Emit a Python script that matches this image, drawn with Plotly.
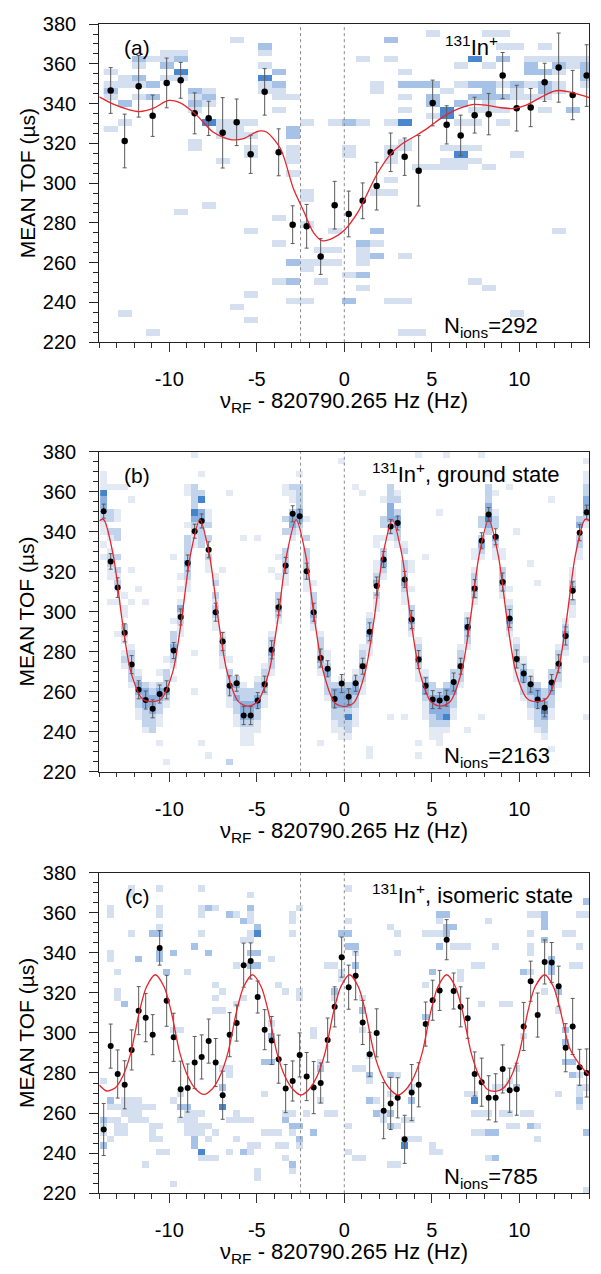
import plotly.graph_objects as go

# ---------------- data ----------------
freq_a = [-13.35, -12.55, -11.75, -10.95, -10.15, -9.35, -8.55, -7.75, -6.95, -6.15,
          -5.35, -4.55, -3.75, -2.95, -2.15, -1.35, -0.55, 0.25, 1.05, 1.85,
          2.65, 3.45, 4.25, 5.05, 5.85, 6.65, 7.45, 8.25, 9.05, 9.85,
          10.65, 11.45, 12.25, 13.05, 13.85]
tof_a = [346.6, 321.2, 348.7, 333.9, 350.4, 351.7, 335.1, 332.6, 325.3, 330.6,
         314.5, 345.9, 315.5, 279.1, 278.3, 263.1, 288.9, 284.5, 291.1, 298.5,
         315.5, 313.3, 306.2, 340.3, 329.3, 324.0, 334.2, 334.7, 354.1, 337.7,
         338.0, 350.7, 358.1, 344.3, 354.1]
err_a = [11.5, 13.5, 15.5, 10.4, 12.5, 9.0, 10.3, 8.6, 17.7, 11.7,
         9.6, 11.7, 11.8, 9.5, 11.0, 9.0, 12.0, 11.5, 9.0, 12.0,
         9.7, 9.4, 17.7, 11.5, 9.6, 10.2, 9.0, 10.4, 11.6, 11.5,
         9.6, 9.6, 17.4, 12.4, 15.5]

freq_bc = [-13.75, -13.35, -12.95, -12.55, -12.15, -11.75, -11.35, -10.95, -10.55, -10.15,
           -9.75, -9.35, -8.95, -8.55, -8.15, -7.75, -7.35, -6.95, -6.55, -6.15,
           -5.75, -5.35, -4.95, -4.55, -4.15, -3.75, -3.35, -2.95, -2.55, -2.15,
           -1.75, -1.35, -0.95, -0.55, -0.15, 0.25, 0.65, 1.05, 1.45, 1.85,
           2.25, 2.65, 3.05, 3.45, 3.85, 4.25, 4.65, 5.05, 5.45, 5.85,
           6.25, 6.65, 7.05, 7.45, 7.85, 8.25, 8.65, 9.05, 9.45, 9.85,
           10.25, 10.65, 11.05, 11.45, 11.85, 12.25, 12.65, 13.05, 13.45, 13.85]
tof_b = [350.2, 325.1, 312.0, 289.4, 273.5, 260.9, 255.8, 251.4, 258.8, 260.9,
         280.5, 297.3, 324.3, 340.2, 345.3, 330.9, 299.7, 285.0, 262.9, 264.2,
         248.0, 248.0, 255.5, 263.7, 280.9, 302.2, 323.1, 348.9, 347.7, 320.2,
         299.7, 276.8, 271.4, 256.3, 264.0, 257.4, 264.2, 272.7, 289.9, 312.8,
         326.0, 342.6, 344.3, 316.1, 296.0, 276.0, 262.9, 256.0, 255.5, 256.7,
         264.8, 272.7, 292.3, 311.5, 335.4, 348.5, 337.4, 314.8, 296.5, 276.3,
         269.0, 263.7, 256.0, 251.9, 264.5, 273.9, 287.8, 310.4, 339.4, 349.7]
err_b = [3.5, 3.9, 4.9, 4.5, 4.5, 4.5, 4.5, 4.5, 4.5, 4.5,
         4.0, 4.0, 4.0, 3.5, 3.5, 4.0, 4.5, 4.5, 5.0, 4.0,
         4.5, 4.5, 4.0, 4.0, 4.5, 4.0, 4.0, 4.0, 3.5, 4.0,
         4.5, 4.5, 4.0, 4.5, 4.5, 4.0, 4.0, 4.0, 4.5, 4.5,
         4.0, 3.5, 3.5, 4.0, 4.5, 4.5, 4.0, 4.5, 4.0, 4.0,
         4.5, 4.0, 4.5, 4.5, 4.0, 3.5, 4.0, 4.5, 4.5, 4.5,
         4.5, 4.0, 4.5, 4.5, 4.0, 4.5, 4.5, 4.5, 4.0, 3.5]

tof_c = [251.8, 293.4, 279.5, 274.1, 291.5, 311.1, 307.6, 299.1, 342.4, 316.0,
         297.8, 271.9, 272.5, 285.2, 288.0, 295.9, 285.2, 268.9, 299.1, 304.9,
         333.8, 335.9, 317.9, 301.6, 296.2, 286.9, 272.2, 276.0, 289.0, 278.2,
         272.7, 275.0, 296.4, 313.0, 337.8, 322.8, 328.5, 305.2, 289.3, 300.0,
         261.2, 264.8, 267.6, 246.9, 270.2, 274.1, 304.4, 316.3, 321.2, 346.5,
         320.9, 313.0, 307.3, 279.5, 275.4, 267.6, 267.6, 282.0, 271.4, 271.9,
         303.2, 325.8, 308.9, 335.4, 335.1, 323.3, 292.6, 303.2, 282.8, 280.0]
err_c = [13, 11, 12, 12, 10, 12, 12, 10, 8.6, 12.7,
         12, 14, 12, 13, 11, 11, 12, 12, 11, 9,
         11, 9, 8, 10, 12, 12, 12, 10, 11, 12,
         13, 10, 11, 10, 10, 11, 12, 11, 11, 12,
         14, 13, 10, 12, 14, 11, 11, 10, 10, 10,
         9, 10, 10, 11, 12, 11, 12, 12, 11, 13,
         12, 10, 11, 11, 10, 10, 12, 14, 9, 12]

# fitted curves
fit_a_x = [-14.0, -13.2, -12.4, -11.7, -10.9, -10.05, -9.4, -8.5, -7.5, -6.5,
           -5.75, -4.9, -4.45, -3.65, -2.9, -2.35, -1.75, -1.25, -0.65, 0.0,
           0.75, 1.85, 2.6, 3.2, 3.95, 4.7, 5.45, 6.25, 7.0, 7.4,
           8.1, 8.9, 9.65, 10.4, 11.2, 11.95, 12.3, 13.1, 14.0]
fit_a_y = [343.4, 339.7, 337.2, 336.0, 337.7, 341.6, 340.5, 334.7, 325.7, 321.9,
           322.4, 326.2, 325.7, 317.4, 297.0, 286.5, 275.0, 271.0, 272.3, 276.3,
           285.0, 304.2, 314.1, 319.1, 323.2, 327.3, 332.2, 336.3, 338.8, 339.6,
           339.2, 338.0, 337.5, 339.2, 343.0, 346.2, 346.6, 345.4, 343.0]

fit_b_x = [-14.0, -13.75, -13.2, -12.7, -12.2, -11.55, -11.0, -10.45, -9.8, -9.3,
           -8.8, -8.25, -7.7, -7.2, -6.7, -6.05, -5.5, -4.95, -4.3, -3.8,
           -3.3, -2.75, -2.2, -1.7, -1.2, -0.55, 0.0, 0.55, 1.2, 1.7,
           2.2, 2.75, 3.3, 3.8, 4.3, 4.95, 5.5, 6.05, 6.7, 7.2,
           7.7, 8.25, 8.8, 9.3, 9.8, 10.45, 11.0, 11.55, 12.2, 12.7,
           13.2, 13.75, 14.0]
fit_b_y = [345.5, 346.0, 328.0, 296.0, 270.0, 256.5, 255.0, 256.5, 270.0, 296.0,
           328.0, 346.0, 328.0, 296.0, 270.0, 255.0, 252.7, 255.0, 270.0, 296.0,
           328.0, 346.0, 328.0, 296.0, 270.0, 254.5, 252.5, 254.5, 270.0, 296.0,
           328.0, 346.0, 328.0, 296.0, 270.0, 255.0, 252.7, 255.0, 270.0, 296.0,
           328.0, 346.0, 328.0, 296.0, 270.0, 256.5, 255.0, 256.5, 270.0, 296.0,
           328.0, 346.0, 345.5]

fit_c_x = [-14.0, -13.575, -13.1, -12.65, -12.2, -11.7, -11.3, -10.8, -10.3, -9.9,
           -9.4, -8.95, -8.5, -8.025, -7.55, -7.1, -6.65, -6.15, -5.75, -5.25,
           -4.75, -4.35, -3.85, -3.4, -2.95, -2.475, -2.0, -1.55, -1.1, -0.6,
           -0.2, 0.3, 0.8, 1.2, 1.7, 2.15, 2.6, 3.075, 3.55, 4.0,
           4.45, 4.95, 5.35, 5.85, 6.35, 6.75, 7.25, 7.7, 8.15, 8.625,
           9.1, 9.55, 10.0, 10.5, 10.9, 11.45, 11.95, 12.35, 12.85, 13.3,
           13.7, 14.0]
fit_c_y = [274.0, 271.0, 272.5, 278.5, 290.0, 311.0, 323.0, 329.0, 323.0, 311.0,
           290.0, 278.5, 272.0, 269.3, 272.0, 278.5, 290.0, 311.0, 323.0, 329.0,
           323.0, 311.0, 290.0, 278.5, 272.0, 269.0, 272.0, 278.5, 290.0, 311.0,
           323.0, 329.0, 323.0, 311.0, 290.0, 278.5, 272.0, 269.0, 272.0, 278.5,
           290.0, 311.0, 323.0, 329.0, 323.0, 311.0, 290.0, 278.5, 272.0, 270.8,
           272.5, 278.5, 290.0, 311.0, 323.0, 329.0, 323.0, 311.0, 293.0, 286.0,
           281.5, 279.0]

# ion-count histograms: per frequency column, "tof:count" tokens (count 1 if omitted)
cells_a = [
    "357 351 347:2 342 328", "352 349 341:2 332 235", "361:2 358 354:2 351 342",
    "361 351:2 344:2 225", "367 364 358:2 354", "367 364:2 357:3 354 286",
    "347:2 345 339:2 336 321 318", "347 344:2 341 332:3 290", "329 326 323 310",
    "371 332 327 323 238", "332 323 319 314 276 245 232", "368:2 365 358 354:3 351 348",
    "357:2 351:2 348 345 338 283 270 251", "342 326:2 323:2 317 314 310 306 260:2 251:2 241",
    "329 296 293 280 260 257 241", "267 260 251", "331 276 267 261",
    "331:2 318 315 254 241:2", "362 329 270:2 267 264 261 254:2 248",
    "351 348 294 276:2 270 264:2", "372:2 362 329 318 314 310 302 294 241",
    "355 348:2 342 336 332:3 322 319 264 241 225", "348:2 307 225",
    "374 348:2 342:2 339:2 335 307", "345 338:3 335:3 319 310 307",
    "358 348 339:2 329 316 313:3 310 307", "362:3 348:2 342:2 336 329 316 310 251",
    "374 358 351:2 348:2 345:2 342 339 307 248", "374 368 364:2 351 344:2 338 332",
    "368 351:2 348 345 315 235", "362 359:2 355:2 348 342",
    "368 362 355:2 351:2 348:2 342 336", "364 362:2 358 351 348 276",
    "364 358 338:2", "362 358:2 355:2 352:2 348",
]
cells_b = [
    "370 367 364 361:4 358:3 355:3 351:2 348:2 345 342 335 326",
    "364 351:2 348:2 341:2 338 332 328:2 325:2 322 316 306",
    "364 351 345 339:2 336:2 326:2 322:2 319 313:2 310 306 290",
    "361 309 301 298 292:2 289:2 286 280 277:2 274",
    "355 322 305 283 280:2 277:2 274:2 271:2 268:2 264",
    "312 271 268:2 264:3 261:3 258:2 255:2 252 249",
    "305 264:2 261:3 258:3 255:3 252:2 249:2 245:2 242",
    "264 261:2 258:3 255:3 252:3 249:2 245:2 242:2",
    "271 264:2 261:3 258:3 255:2 252:2 249 245 236",
    "277 271:2 268:2 264:2 261:3 258:2 255 226",
    "328 296 290:2 287:2 283:3 280:2 277:2 274 268",
    "318 310 306 302:3 299:2 296:2 293 290",
    "364 361 342 338:2 335:2 332:2 328:2 325:3 322:2 318:2 315 310",
    "378 364:2 361:2 358:2 355:2 351:4 348:3 345:2 342:2 338 335 280 259",
    "370 358:2 355:4 351:3 348:3 345:2 342:2 338:2 335:2 234",
    "351 345 342:2 338:2 332 328:2 325 322 229",
    "316 313:2 309:2 306 303:2 300:2 296 293",
    "321 290 287:2 284:2 280:2 277 274",
    "358 277 271:2 267:2 264:2 261:2 258 255 226:2",
    "267:2 264:3 261:2 258:3 255:2 252:2 248 245",
    "337 264 261:2 258:2 255:3 252:3 248:3 245:2 242 239 236",
    "261:2 258:2 255:3 252:3 248:3 245:2 242 239 236",
    "337 267 264:2 261:2 258:3 255:3 252:2 248:2 245 242",
    "274 271:2 267:2 264:3 261:2 258 255",
    "322 290 287:2 284:2 280:3 277:2 274:2 271",
    "328 316 309:2 306:2 302:3 299:2 296",
    "364 361 345:2 339:2 332:2 328:2 325:2 322:2 319 316",
    "364:2 361 355 351:2 348:3 345:3 342:2 338",
    "370 364:2 361:2 358:2 355:2 351:3 348:3 345:2 342",
    "345 338:2 332:2 328:2 325:2 322:2 319:2 316 313",
    "313 309:2 306:2 303:2 300:3 296:2 293",
    "290 287:2 283:2 280:2 277:3 274:2 271 233",
    "280 277 274:2 271:3 267:2 264:2 261:2 258",
    "264:2 261:3 258:3 255:3 252:2 248:2 245 242",
    "375 267 264:2 261:3 258:3 255:3 252:2 248:2 245:2 242 239",
    "264:2 261:3 258:3 255:3 252:2 248:4 245:2 242:2 239",
    "364 271 267:2 264:3 261:3 258:2 255:2 252 248 245",
    "358 283 280:2 277:2 274:3 271:2 267:2 264 261",
    "300 296:2 293:2 290:3 287:2 283 280 232 230",
    "338 335 325 320 316:2 313:3 309:2 306 303",
    "355 345:2 342:2 338 332:2 328:2 325:3 322:2 319",
    "364:2 361:2 358:2 355:3 351:3 348:3 345:2 342:2 338 248",
    "358 355:2 351:2 348:3 345:3 342:2 338:2 335",
    "335 330:2 325:2 322:2 319:2 316:3 313:2 309 305 248",
    "325 320 310 303:2 300:2 296:3 293:2 290",
    "378 287 283:2 280:2 277:3 274:2 271 267 234 229",
    "328 271 267:2 264:3 261:3 258:2 255 252 248",
    "264:2 261:2 258:3 255:3 252:3 248:2 245:2 242 239",
    "348 261:2 258:3 255:3 252:3 248:3 245:2 242 239 236",
    "378 264:2 261:3 258:3 255:3 252:3 248:4 245:2 242",
    "271:2 267:2 264:3 261:3 258:2 255:2 252 248",
    "283 280:2 277:2 274:3 271:2 267:2 264",
    "300 296:2 293:3 290:2 287:2 283 242",
    "330 326 322 318:2 314:2 311:3 308:2 305",
    "378 345:2 342:2 338:2 335:3 332:2 328 246",
    "370 364:2 361:2 358:2 355:3 351:3 348:4 345:3 342:2",
    "358 351 345:2 342:2 338:3 335:2 332 328",
    "330 326 322:2 318:2 315:3 311:2 308",
    "362 310 306 302:2 299:2 296:3 293:2 290",
    "341 287 283:2 280:2 277:3 274:2 271 267",
    "277 274:2 271:3 267:3 264:2 261:2 258",
    "323 271 267:2 264:3 261:3 258:2 255:2 252 248",
    "313 264:2 261:3 258:3 255:3 252:2 248:2 245:2 242",
    "261:2 258:2 255:3 252:4 248:3 245:2 242:2 239",
    "355 271:2 267:2 264:3 261:3 258:2 255:2 252 248 232",
    "283 280:2 277:2 274:3 271:2 267:2 264",
    "296 293:2 290:3 287:2 283:2 280",
    "322 318 314:2 310:3 306:2 302 299",
    "345:2 342:3 338:2 335:2 332 328",
    "375 370 367 364:2 361:2 358:3 355:3 351:3 348:2 345 275 248",
]
cells_c = [
    "277 258:2 255 252 245:2", "361 358 341 336 267:2 263 258 248",
    "332 320 317 263 258 255 249", "313:2 268 263 260 255 249",
    "373 369 348 267 263 260 256", "338:2 268 263 260 256", "263 256 236",
    "351:2 263 255 252 248", "371 362 358 354 351:2 339:2 336:2 252 248 242",
    "332:2 242", "341:2 303 266 225", "303 269 264:2 258",
    "332 264:2 261 258 255 252", "344:2 261 258 255 252 248:2 245:2",
    "371 362 358 350 261 255 251 242:3 239", "364:2 341:2 252 248 238",
    "364 325 318 311 251 238", "320 311 283 272:2 264:3", "360:2 283 279 258 242",
    "360 334 315 261 258 248", "357:2 347 319 258 241:2",
    "370 364:2 360 357 350 346 341:2 335:2 258 245 242",
    "354:2 350:3 341:2 334:2 245 232 229", "287:2 270 250", "338 306 300:2 287:2 250",
    "325 250 245", "322 259 256:2 245 238", "359 355 351 259 255:2 250 236:2 233",
    "364 321 317 255:2 248:2 245", "261", "303 300 251:2", "285 281:2 267",
    "334 261", "334 322:2 317 261", "350:2 330 326", "373 357 350:2 344:2 252 242",
    "344:2 341 334:2 283 239", "318 312:2 301 283 239", "288 279:2 276 265:2",
    "266 261:2", "261 256", "354 279:2 269 260:2 252:2 234", "348 341 279 252 233",
    "256 246 243:3", "272 266:2 256 246", "246", "348 325 308:2",
    "348 329:2 245 240", "360:2 357 348 344:2 240", "360:2 354:2 348:2",
    "354:2 344", "344 330 326", "344 271", "334 271 267:3 260 251",
    "334 313 260 251", "357 260 249:2 238", "344 272 249:2 238:2", "313 272 261",
    "315 276 261 255", "281 274:2 255", "331:2 299 259", "360 350 344 341 331 259 255:2",
    "360 255 248", "360:2 357:2 354:2 347:2 321", "338:2 334:2 331:2",
    "321:2 312 271", "350 301:2 294:2 287:2", "350 334 284:2 279:2",
    "360 344 334 279 273 270 266:2 263", "366:2 360 273 249:2 222",
]

ramsey_lines = [-2.5, 0.0]
x_tick_vals = [-10, -5, 0, 5, 10]
x_tick_text = ["-10", "-5", "0", "5", "10"]
labels = ["(a)", "(b)", "(c)"]
species = ["<sup>131</sup>In<sup>+</sup>",
           "<sup>131</sup>In<sup>+</sup>, ground state",
           "<sup>131</sup>In<sup>+</sup>, isomeric state"]
n_ions = [292, 2163, 785]

# ---------------- helpers ----------------
TOF_LO, TOF_HI, TOF_BIN = 220.0, 380.0, 3.2
NBINS = 50
bin_centers = [TOF_LO + TOF_BIN * (k + 0.5) for k in range(NBINS)]


def build_grid(cols):
    z = [[None] * len(cols) for _ in range(NBINS)]
    for i, s in enumerate(cols):
        for tok in s.split():
            parts = tok.split(":")
            t = float(parts[0])
            n = int(parts[1]) if len(parts) > 1 else 1
            pos = (t - TOF_LO) / TOF_BIN - 0.5
            k = int(round(pos))
            if 0 <= k < NBINS and z[k][i] is not None:
                alt = k + 1 if pos > k else k - 1
                if 0 <= alt < NBINS and z[alt][i] is None:
                    k = alt
            if 0 <= k < NBINS:
                z[k][i] = (z[k][i] or 0) + n
    return z


W, H = 601, 1274
FONT = "Liberation Sans, Arial, Helvetica, sans-serif"
X0, X1 = 99.3, 589.3
panels_px = [(13.3, 337.0), (448.3, 774.0), (876.7, 1203.0)]


def fx(px):
    return px / W


def fy(py):
    return 1 - py / H


scale_light = [[0.0, "#d4e0f0"], [0.5, "#a6c2e6"], [1.0, "#4a87cf"]]
scale_b = [[0.0, "#e4eaf3"], [0.333, "#c2d4ec"], [0.667, "#8cb1e0"], [1.0, "#4484cd"]]

datasets = [
    (freq_a, tof_a, err_a, fit_a_x, fit_a_y, cells_a, scale_light, 3, 6.5),
    (freq_bc, tof_b, err_b, fit_b_x, fit_b_y, cells_b, scale_b, 4, 6),
    (freq_bc, tof_c, err_c, fit_c_x, fit_c_y, cells_c, scale_light, 3, 6),
]

fig = go.Figure()
layout = dict(width=W, height=H, margin=dict(l=0, r=0, t=0, b=0),
              plot_bgcolor="white", paper_bgcolor="white", showlegend=False,
              font=dict(family=FONT, color="black"))
annotations = []

for p, (fq, tof, err, fxs, fys, cells, cs, zmax, msize) in enumerate(datasets):
    sfx = "" if p == 0 else str(p + 1)
    xa, ya = "x" + sfx, "y" + sfx
    top, bot = panels_px[p]
    fig.add_trace(go.Heatmap(x=fq, y=bin_centers, z=build_grid(cells), colorscale=cs,
                             zmin=1, zmax=zmax, showscale=False, hoverinfo="skip",
                             xaxis=xa, yaxis=ya))
    for v in ramsey_lines:
        fig.add_trace(go.Scatter(x=[v, v], y=[TOF_LO, TOF_HI], mode="lines",
                                 line=dict(color="#8a8a8a", width=1, dash="dot"),
                                 hoverinfo="skip", xaxis=xa, yaxis=ya))
    fig.add_trace(go.Scatter(x=fq, y=tof, mode="markers",
                             marker=dict(color="black", size=msize),
                             error_y=dict(type="data", array=err, color="#5a5a5a",
                                          thickness=1, width=2),
                             hoverinfo="skip", xaxis=xa, yaxis=ya))
    fig.add_trace(go.Scatter(x=fxs, y=fys, mode="lines",
                             line=dict(color="#e8242c", width=1.3, shape="spline",
                                       smoothing=0.8),
                             hoverinfo="skip", xaxis=xa, yaxis=ya))

    layout["xaxis" + sfx] = dict(
        domain=[fx(X0), fx(X1)], anchor=ya, range=[-14, 14],
        tickmode="array", tickvals=x_tick_vals, ticktext=x_tick_text,
        ticks="outside", ticklen=9, tickwidth=1, tickcolor="#333",
        minor=dict(tickmode="linear", tick0=-14, dtick=1, ticks="outside",
                   ticklen=4.5, tickwidth=1, tickcolor="#333", showgrid=False),
        showline=True, linecolor="#222", linewidth=1.2, mirror=True,
        showgrid=False, zeroline=False, ticklabelstandoff=10,
        tickfont=dict(size=20, family=FONT, color="black"))
    layout["yaxis" + sfx] = dict(
        domain=[fy(bot), fy(top)], anchor=xa, range=[TOF_LO, TOF_HI],
        tickmode="linear", tick0=220, dtick=20,
        ticks="outside", ticklen=9, tickwidth=1, tickcolor="#222",
        minor=dict(tickmode="linear", tick0=220, dtick=5, ticks="outside",
                   ticklen=5, tickwidth=1, tickcolor="#222", showgrid=False),
        showline=True, linecolor="#222", linewidth=1.2, mirror=True,
        showgrid=False, zeroline=False, ticklabelstandoff=9,
        tickfont=dict(size=20, family=FONT, color="black"))

    annotations.append(dict(text=labels[p], x=fx(137), y=fy(top + 24), xref="paper",
                            yref="paper", showarrow=False, xanchor="center",
                            yanchor="middle", font=dict(size=21, family=FONT)))
    annotations.append(dict(text=species[p], x=fx(370 if p else 443), y=fy(top + 22),
                            xref="paper", yref="paper", showarrow=False,
                            xanchor="left", yanchor="middle",
                            font=dict(size=22, family=FONT)))
    annotations.append(dict(text="N<sub>ions</sub>=%d" % n_ions[p], x=fx(442),
                            y=fy(bot - 15), xref="paper", yref="paper",
                            showarrow=False, xanchor="left", yanchor="middle",
                            font=dict(size=22, family=FONT)))
    annotations.append(dict(text="MEAN TOF (µs)", x=fx(27), y=fy((top + bot) / 2),
                            xref="paper", yref="paper", showarrow=False,
                            textangle=-90, xanchor="center", yanchor="middle",
                            font=dict(size=21, family=FONT)))
    annotations.append(dict(text="ν<sub>RF</sub> - 820790.265 Hz (Hz)",
                            x=fx((X0 + X1) / 2), y=fy(bot + 61), xref="paper",
                            yref="paper", showarrow=False, xanchor="center",
                            yanchor="middle", font=dict(size=22, family=FONT)))

layout["annotations"] = annotations
fig.update_layout(**layout)
fig.write_html("out.html", config={"displayModeBar": False},
               post_script="document.body.style.margin='0';document.body.style.overflow='hidden';")
